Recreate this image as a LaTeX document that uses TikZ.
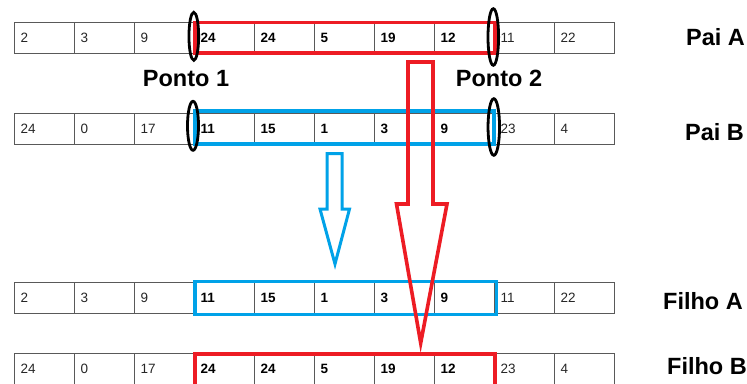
\documentclass[tikz,border=0pt]{standalone}
\usepackage{fontspec}
\setmainfont{Liberation Sans}
\usetikzlibrary{shapes.geometric}
\definecolor{pred}{HTML}{ED1C24}
\definecolor{pblue}{HTML}{00A2E8}
\begin{document}
\begin{tikzpicture}[x=1pt,y=-1pt,
  cell/.style={draw=black!65, line width=1pt, minimum height=31pt,
    text width=48pt, inner xsep=6pt, inner ysep=0pt, align=left,
    anchor=north west, font=\fontsize{13.5}{16}\selectfont, text=black!85},
  cellb/.style={cell, font=\fontsize{13.5}{16}\selectfont\bfseries, text=black},
  lbl/.style={font=\fontsize{23.5}{28}\selectfont\bfseries, inner sep=0pt},
  cut/.style={draw=black, line width=2.8pt, ellipse, inner sep=0pt},
  redbox/.style={draw=pred, line width=3.6pt},
  bluebox/.style={draw=pblue, line width=3.6pt},
  redarrow/.style={draw=pred, line width=3.6pt, line join=miter},
  bluearrow/.style={draw=pblue, line width=3pt, line join=miter}]
\useasboundingbox (0,0) rectangle (747,383);
\clip (0,0) rectangle (747,383);

% Pai A
\foreach \v/\s [count=\i] in {2/cell,3/cell,9/cell,24/cellb,24/cellb,5/cellb,19/cellb,12/cellb,11/cell,22/cell}
  \node[\s] (a\i) at ({14+60*(\i-1)},22) {\v};
% Pai B
\foreach \v/\s [count=\i] in {24/cell,0/cell,17/cell,11/cellb,15/cellb,1/cellb,3/cellb,9/cellb,23/cell,4/cell}
  \node[\s] (b\i) at ({14+60*(\i-1)},113) {\v};
% Filho A
\foreach \v/\s [count=\i] in {2/cell,3/cell,9/cell,11/cellb,15/cellb,1/cellb,3/cellb,9/cellb,11/cell,22/cell}
  \node[\s] (c\i) at ({14+60*(\i-1)},282) {\v};
% Filho B
\foreach \v/\s [count=\i] in {24/cell,0/cell,17/cell,24/cellb,24/cellb,5/cellb,19/cellb,12/cellb,23/cell,4/cell}
  \node[\s] (d\i) at ({14+60*(\i-1)},353) {\v};

% highlighted segments
\draw[redbox] (195,22.5) rectangle (495,53);
\draw[bluebox] (195,111) rectangle (494,144);
\draw[bluebox] (195,281.5) rectangle (496.5,314.5);
\draw[redbox] (195,354) rectangle (495,395);

% labels
\node[lbl] (p1) at (186,79) {Ponto 1};
\node[lbl] (p2) at (499,78) {Ponto 2};
\node[lbl, anchor=west] (la) at (686,37) {Pai A};
\node[lbl, anchor=west] (lb) at (685,132) {Pai B};
\node[lbl, anchor=west] (lc) at (663,301) {Filho A};
\node[lbl, anchor=west] (ld) at (667,366) {Filho B};

% hollow arrows
\coordinate (bt) at (335,264);
\draw[bluearrow] (327,153.5) -- (342,153.5) -- (342,209) -- (349.5,209)
  -- (bt) -- (320,209) -- (327,209) -- cycle;
\coordinate (rt) at (420.7,343);
\draw[redarrow] (408,62) -- (433,62) -- (433,204) -- (447,204)
  -- (rt) -- (396.5,204) -- (408,204) -- cycle;

% cut points
\node[cut, minimum width=9.7pt, minimum height=48pt] (e1) at (193.8,36.3) {};
\node[cut, minimum width=10.6pt, minimum height=56.6pt] (e2) at (493.3,37) {};
\node[cut, minimum width=11pt, minimum height=49pt] (e3) at (193,125.8) {};
\node[cut, minimum width=11.5pt, minimum height=56.6pt] (e4) at (493.8,127) {};
\end{tikzpicture}
\end{document}
